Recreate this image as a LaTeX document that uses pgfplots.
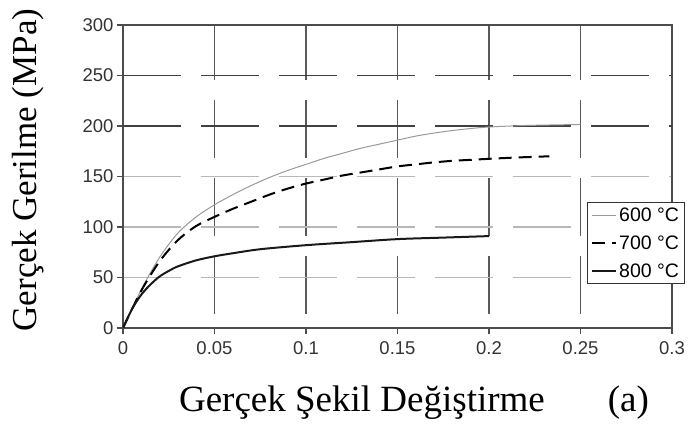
\documentclass[border=0pt]{standalone}
\usepackage{fontspec}
\setmainfont{Liberation Sans}
\newfontfamily\timesfont{Liberation Serif}
\usepackage{pgfplots}
\pgfplotsset{compat=1.18}
\begin{document}
\begin{tikzpicture}
\path[use as bounding box] (-123pt,-99pt) rectangle (570pt,328pt);
\begin{axis}[
  at={(0,0)}, anchor=south west,
  scale only axis, width=549pt, height=303pt,
  xmin=0, xmax=0.3, ymin=0, ymax=300,
  xtick={0,0.05,0.1,0.15,0.2,0.25,0.3},
  xticklabels={0,0.05,0.1,0.15,0.2,0.25,0.3},
  scaled x ticks=false,
  ytick={0,50,100,150,300},
  extra y ticks={200,250},
  /pgf/number format/assume math mode=true,
  ticklabel style={font=\fontsize{18.5}{22}\selectfont, text=black!80},
  xticklabel style={yshift=-4pt},
  tick pos=left, tick align=outside, major tick length=6pt,
  tick style={black!70, line width=1.2pt},
  axis line style={black!70, line width=1.6pt},
  grid=major,
  major x grid style={black!65, line width=1.2pt, dash pattern=on 58pt off 20pt, dash phase=64pt},
  major y grid style={black!28, line width=1.2pt, dash pattern=on 58pt off 20pt},
  extra y tick style={major y grid style={draw=black!75}},
  xlabel={\timesfont Gerçek Şekil Değiştirme\hspace{1.7em}(a)},
  xlabel style={at={(axis description cs:0.530,-0.277)}, anchor=base, font=\fontsize{37}{42}\selectfont},
  ylabel={\timesfont Gerçek Gerilme (MPa)},
  ylabel style={at={(axis description cs:-0.173,0.521)}, anchor=center, font=\fontsize{35}{40}\selectfont},
  legend style={at={(rel axis cs:1.0237,0.416)}, anchor=north east,
    font=\fontsize{19.5}{22}\selectfont, draw=black!80, line width=1pt,
    inner xsep=3pt, inner ysep=5pt, row sep=13pt, fill=white,
    nodes={inner xsep=2.5pt, inner ysep=0pt}},
  legend cell align=left,
  legend image code/.code={\draw[#1] (0pt,0pt) -- (24pt,0pt);},
]
\addplot[black!40, line width=1pt, smooth] coordinates {
 (0,0) (0.01,38) (0.02,70) (0.03,94) (0.04,110) (0.05,122) (0.06,132) (0.07,141)
 (0.08,149) (0.09,156) (0.1,162) (0.11,168) (0.12,173) (0.13,178) (0.14,182)
 (0.15,186) (0.16,190) (0.17,193) (0.18,195.5) (0.19,197.5) (0.2,199) (0.22,200.5) (0.25,201.5) };
\addlegendentry{600 °C}
\addplot[black, line width=2pt, dash pattern=on 13pt off 7pt, smooth] coordinates {
 (0,0) (0.01,37) (0.02,66) (0.03,87) (0.04,101) (0.05,110) (0.06,118) (0.07,125)
 (0.08,132) (0.09,138) (0.1,143) (0.11,147) (0.12,151) (0.13,154) (0.14,157)
 (0.15,160) (0.16,162) (0.17,164) (0.18,165.5) (0.19,166.5) (0.2,167.5) (0.215,168.8) (0.233,170) };
\addlegendentry{700 °C}
\addplot[black!90, line width=2pt, smooth] coordinates {
 (0,0) (0.005,19) (0.01,33) (0.015,43) (0.02,51) (0.025,56.5) (0.03,61) (0.04,67)
 (0.05,71) (0.06,74) (0.075,78) (0.1,82) (0.125,85) (0.15,88) (0.175,89.5) (0.2,91) };
\addlegendentry{800 °C}
\end{axis}
\end{tikzpicture}
\end{document}
